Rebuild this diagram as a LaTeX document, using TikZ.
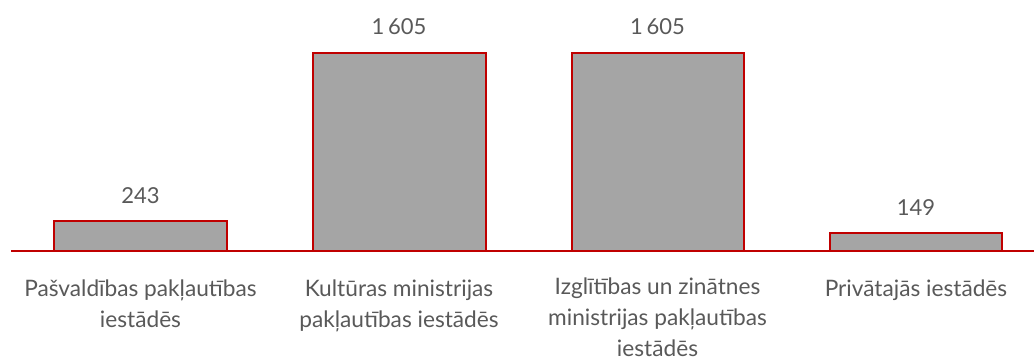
\documentclass[tikz,border=0pt]{standalone}
\usepackage{fontspec}
\setmainfont{Lato}
\definecolor{barred}{HTML}{C00000}
\definecolor{bargray}{HTML}{A5A5A5}
\definecolor{textgray}{HTML}{595959}
\tikzset{
    bar/.style={fill=bargray, draw=barred, line width=1.5pt},
    value/.style={anchor=base, inner sep=0pt, text=textgray, font=\fontsize{16.5}{20}\selectfont},
    category/.style={anchor=base, inner sep=0pt, text=textgray, align=center, font=\fontsize{17}{23}\selectfont}
}
\begin{document}
\begin{tikzpicture}[x=0.75pt, y=-0.75pt]
    \useasboundingbox (0,0) rectangle (1034,358);
    % bars
    \draw [bar] (54,250.5) rectangle (227,221);
    \draw [bar] (313,250.5) rectangle (485.5,52.5);
    \draw [bar] (571.5,250.5) rectangle (744,52.5);
    \draw [bar] (830,250.5) rectangle (1002,232.5);
    % axis
    \draw [barred, line width=1.5pt] (11,250.5) -- (1034,250.5);

    \node [value] (v1) at (140.5,203) {243};
    \node [value] (v2) at (399,34) {1\,605};
    \node [value] (v3) at (657.5,34) {1\,605};
    \node [value] (v4) at (916,215) {149};

    % multi-line labels sit on their last baseline
    \node [category] (c1) at (140.5,327) {Pašvaldības pakļautības\\iestādēs};
    \node [category] (c2) at (399,327) {Kultūras ministrijas\\pakļautības iestādēs};
    \node [category, text depth=0pt] (c3) at (657.5,356) {Izglītības un zinātnes\\ministrijas pakļautības\\iestādēs};
    \node [category] (c4) at (916,296) {Privātajās iestādēs};
\end{tikzpicture}
\end{document}
